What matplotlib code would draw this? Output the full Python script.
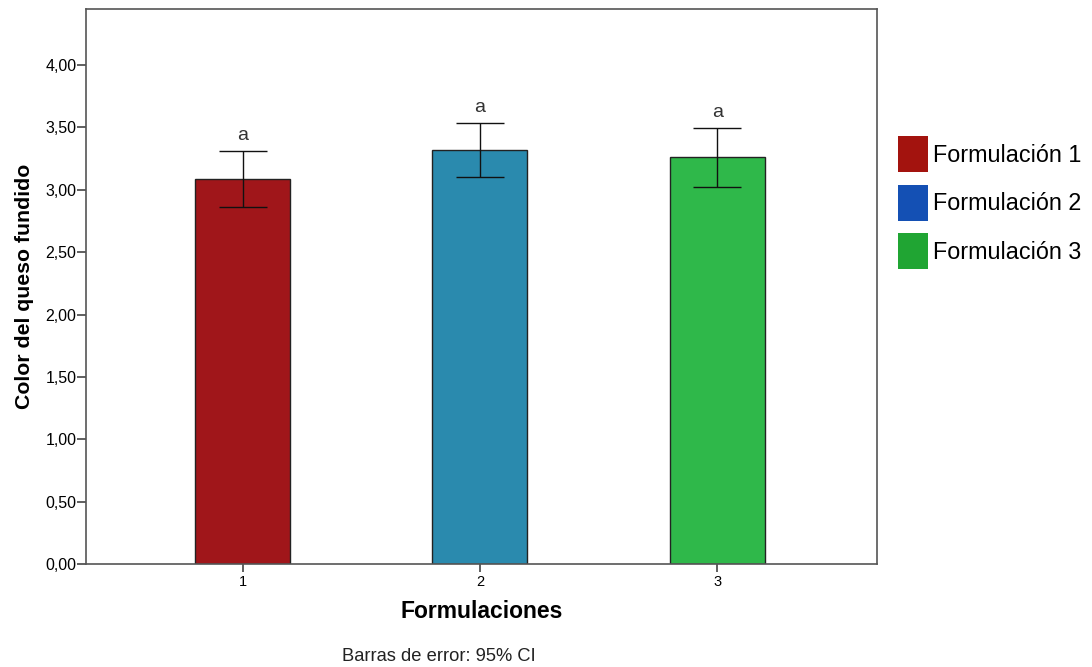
import matplotlib
matplotlib.use("Agg")
import matplotlib.pyplot as plt
from matplotlib.patches import Patch

categories = ["1", "2", "3"]
means = [3.09, 3.32, 3.26]
ci_low = [2.86, 3.10, 3.02]
ci_high = [3.31, 3.535, 3.495]
letters = ["a", "a", "a"]
legend_labels = ["Formulación 1", "Formulación 2", "Formulación 3"]
bar_colors = ["#A0161A", "#2A8AAE", "#2FB84A"]
legend_colors = ["#A3130E", "#1450B4", "#20A533"]
yticks = [0.0, 0.5, 1.0, 1.5, 2.0, 2.5, 3.0, 3.5, 4.0]

plt.rcParams['font.family'] = ['Liberation Sans', 'DejaVu Sans']

fig = plt.figure(figsize=(10.92, 6.67), dpi=100)
ax = fig.add_axes([0.0788, 0.1544, 0.7246, 0.8321])

x = [1, 2, 3]
yerr = [[m - l for m, l in zip(means, ci_low)], [h - m for m, h in zip(means, ci_high)]]
ax.bar(x, means, width=0.4, color=bar_colors, edgecolor="#222222", linewidth=1.0, zorder=2)
ax.errorbar(x, means, yerr=yerr, fmt="none", ecolor="#111111", elinewidth=1.0,
            capsize=17, capthick=1.0, zorder=3)
for xi, h, t in zip(x, ci_high, letters):
    ax.text(xi, h + 0.06, t, ha="center", va="bottom", fontsize=14, color="#333333")

ax.set_xlim(0.34, 3.675)
ax.set_ylim(0, 4.45)
ax.set_xticks(x)
ax.set_xticklabels(categories, fontsize=10.5)
ax.set_yticks(yticks)
ax.set_yticklabels([f"{v:.2f}".replace(".", ",") for v in yticks], fontsize=11.5)
ax.tick_params(axis="y", direction="out", length=6.5, width=1.2, color="#444444", pad=0.5)
ax.tick_params(axis="x", direction="out", length=6, width=1.2, color="#444444", pad=2)
for s in ax.spines.values():
    s.set_color("#555555")
    s.set_linewidth(1.2)

ax.set_xlabel("Formulaciones", fontsize=16.5, fontweight="bold", labelpad=8)
ax.set_ylabel("Color del queso fundido", fontsize=15.3, fontweight="bold", labelpad=8)

fig.text(0.402, 0.015, "Barras de error: 95% CI", ha="center", va="center", fontsize=13.2, color="#222222")

handles = [Patch(facecolor=c, edgecolor="none") for c in legend_colors]
fig.legend(handles, legend_labels, loc="upper left", bbox_to_anchor=(0.8223, 0.796),
           frameon=False, fontsize=16.8, handlelength=1.29, handleheight=2.0,
           handletextpad=0.2, labelspacing=0.54, borderaxespad=0, borderpad=0)

fig.savefig("out.png", dpi=100)
